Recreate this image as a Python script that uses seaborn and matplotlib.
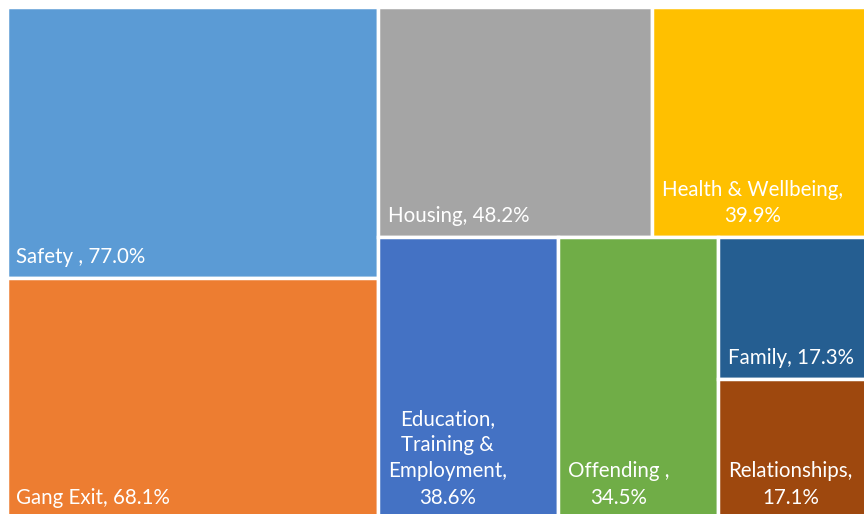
import matplotlib
matplotlib.use("Agg")
import matplotlib.pyplot as plt
import seaborn as sns

# Share of responses per need area (%)
categories = ["Safety ", "Gang Exit", "Housing", "Health & Wellbeing",
              "Education, Training & Employment", "Offending ", "Family",
              "Relationships"]
values = [77.0, 68.1, 48.2, 39.9, 38.6, 34.5, 17.3, 17.1]
colors = ["#5B9BD5", "#ED7D31", "#A5A5A5", "#FFC000",
          "#4472C4", "#70AD47", "#255E91", "#9E480E"]

sns.set_theme(style="white")
plt.rcParams["font.family"] = ["Lato", "DejaVu Sans"]

FIG_W, FIG_H = 864, 514
fig = plt.figure(figsize=(FIG_W / 100, FIG_H / 100), dpi=100)
ax = fig.add_axes([0, 0, 1, 1])
ax.set_xlim(0, FIG_W)
ax.set_ylim(FIG_H, 0)
ax.axis("off")

# Plot region of the treemap (pixel space, y downward)
X0, Y0, W, H = 6.5, 6.5, 872.0, 512.0


def worst(row, length, scale):
    s = sum(row) * scale
    side = s / length
    r = []
    for v in row:
        other = v * scale / side
        r.append(max(side / other, other / side))
    return max(r)


def squarify(vals, x, y, w, h):
    """Squarified treemap layout: returns (x, y, w, h) per value."""
    rects = []
    vals = list(vals)
    total = sum(vals)
    scale = w * h / total
    while vals:
        length = min(w, h)
        row = [vals[0]]
        i = 1
        while i < len(vals) and worst(row + [vals[i]], length, scale) <= worst(row, length, scale):
            row.append(vals[i])
            i += 1
        vals = vals[i:]
        area = sum(row) * scale
        if w >= h:
            cw = area / h
            cy = y
            for v in row:
                rh = v * scale / cw
                rects.append((x, cy, cw, rh))
                cy += rh
            x += cw
            w -= cw
        else:
            rh = area / w
            cx = x
            for v in row:
                rw = v * scale / rh
                rects.append((cx, y, rw, rh))
                cx += rw
            y += rh
            h -= rh
    return rects


rects = squarify(values, X0, Y0, W, H)

ax.bar([r[0] for r in rects], [r[3] for r in rects],
       width=[r[2] for r in rects], bottom=[r[1] for r in rects],
       align="edge", color=colors, edgecolor="white", linewidth=2.5)

renderer = fig.canvas.get_renderer()
FS = 14.8
PAD_X, PAD_Y = 10, 11


def text_width(s):
    t = ax.text(0, 0, s, fontsize=FS)
    wpx = t.get_window_extent(renderer).width
    t.remove()
    return wpx


for (rx, ry, rw, rh), name, v in zip(rects, categories, values):
    words = f"{name}, {v:.1f}%".split(" ")
    avail = rw - 2 * PAD_X
    lines, cur = [], ""
    for wd in words:
        cand = wd if not cur else cur + " " + wd
        if cur and text_width(cand) > avail:
            lines.append(cur)
            cur = wd
        else:
            cur = cand
    lines.append(cur)
    ax.text(rx + PAD_X, ry + rh - PAD_Y, "\n".join(lines), fontsize=FS,
            color="white", ha="left", va="bottom", multialignment="center",
            linespacing=1.38)

fig.savefig("out.png", dpi=100, facecolor="white")
